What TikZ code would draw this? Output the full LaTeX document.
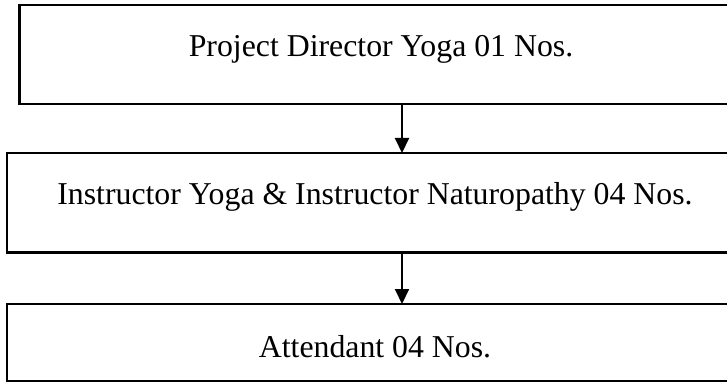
\documentclass[tikz,border=0pt]{standalone}
\usepackage{fontspec}
\setmainfont{Liberation Serif}
\usetikzlibrary{arrows.meta}

\begin{document}
\begin{tikzpicture}[x=1pt,y=-1pt,line width=2.5pt,>={Triangle[width=14pt,length=15pt]},
  post/.style={draw,rectangle,inner sep=0pt,outer sep=0pt,anchor=north west,
    font=\fontsize{31.8}{37}\selectfont}]
  \clip (0,0) rectangle (727,382);
  \node[post,minimum width=723pt,text height=52pt,text depth=47pt] (director) at (19.5,5) {Project Director Yoga 01 Nos.};
  \node[post,minimum width=736pt,text height=51pt,text depth=48.5pt] (instructor) at (7,153) {Instructor Yoga \& Instructor Naturopathy 04 Nos.};
  \node[post,minimum width=736pt,text height=53pt,text depth=24pt] (attendant) at (7,304) {Attendant 04 Nos.};
  \coordinate (ax) at (402,0);
  \draw[->,line width=2pt] (director.south -| ax) -- (instructor.north -| ax);
  \draw[->,line width=2pt] (instructor.south -| ax) -- (attendant.north -| ax);
\end{tikzpicture}
\end{document}
